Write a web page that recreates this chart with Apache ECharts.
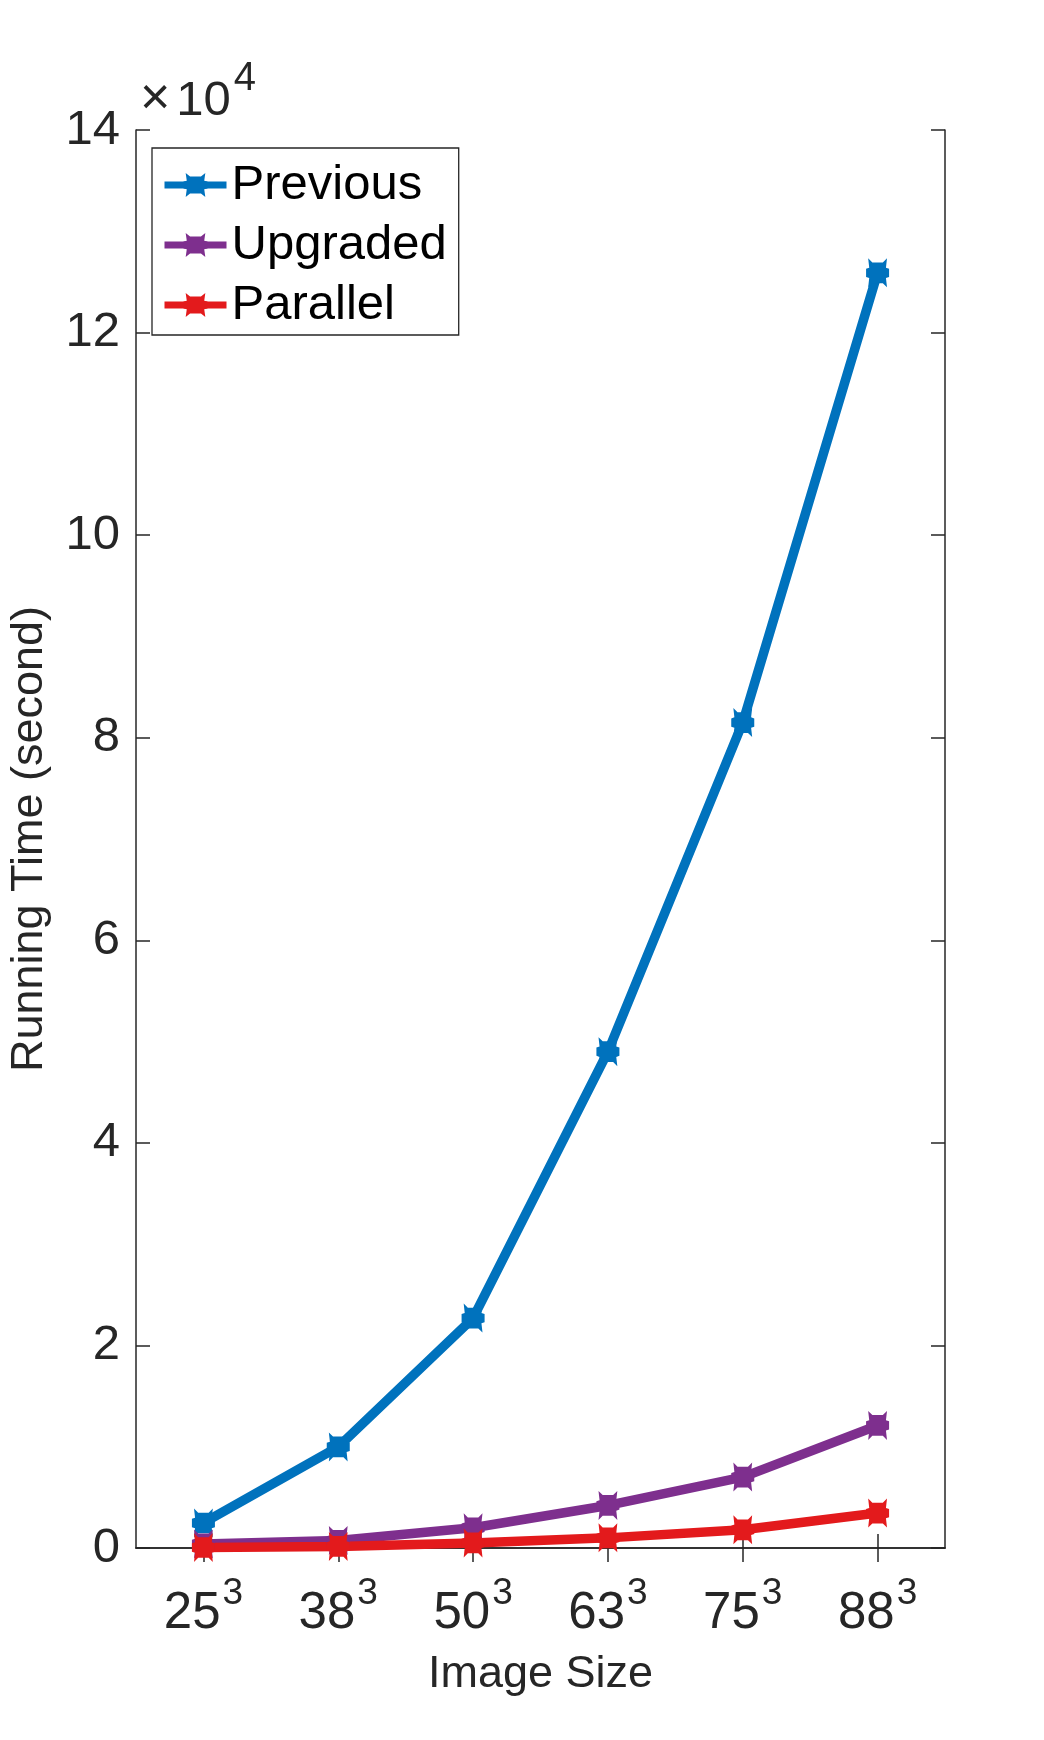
<!DOCTYPE html>
<html>
<head>
<meta charset="utf-8">
<script src="https://cdn.jsdelivr.net/npm/echarts@6/dist/echarts.min.js"></script>
<style>
html,body{margin:0;padding:0;background:#fff;}
#chart{width:1044px;height:1740px;}
</style>
</head>
<body>
<div id="chart"></div>
<script>
// ---- data ----
const categories = ['25', '38', '50', '63', '75', '88'];
const exponent = '3';
const seriesNames = ['Previous', 'Upgraded', 'Parallel'];
const previous = [2470, 9980, 22700, 49000, 81500, 125900];
const upgraded = [400, 750, 2000, 4200, 7000, 12100];
const parallel = [50, 160, 500, 1000, 1800, 3450];
const yTicks = [0, 2, 4, 6, 8, 10, 12, 14]; // in units of 10^4
const yScale = 10000;

const colors = ['#0072BD', '#7E2F8E', '#E31A1C'];
const axisColor = '#262626';
const FONT = '"Liberation Sans", Arial, Helvetica, sans-serif';
const marker = 'path://M-9 -14 L-5 -10 L5 -10 L9 -14 L8 -5 L11 -4 L11 4 L8 5 L9 14 L5 10 L-5 10 L-9 14 L-8 5 L-11 4 L-11 -4 L-8 -5 Z';

const chart = echarts.init(document.getElementById('chart'), null, {renderer: 'canvas'});

function mkSeries(name, data, color) {
  return {
    name: name,
    type: 'line',
    data: data,
    xAxisIndex: 0,
    yAxisIndex: 0,
    clip: false,
    symbol: marker,
    symbolSize: [23, 29],
    showAllSymbol: true,
    lineStyle: {color: color, width: 9.5},
    itemStyle: {color: color},
    emphasis: {disabled: true},
    animation: false
  };
}

const axisLineStyle = {show: true, lineStyle: {color: axisColor, width: 1.5}};

const option = {
  animation: false,
  textStyle: {fontFamily: FONT},
  title: {
    left: 140,
    top: 59,
    padding: 0,
    text: '{x|×}{b|10}{s|4}',
    textStyle: {
      fontWeight: 'normal',
      rich: {
        x: {fontFamily: FONT, fontWeight: 'normal', fontSize: 52, lineHeight: 67, color: axisColor, verticalAlign: 'bottom', padding: [0, 6, 0, 0]},
        b: {fontFamily: FONT, fontWeight: 'normal', fontSize: 49, lineHeight: 67, color: axisColor, verticalAlign: 'bottom'},
        s: {fontFamily: FONT, fontWeight: 'normal', fontSize: 40, lineHeight: 40, color: axisColor, verticalAlign: 'top', padding: [0, 0, 0, 3]}
      }
    }
  },
  legend: {
    orient: 'vertical',
    left: 152,
    top: 148,
    itemWidth: 62,
    itemHeight: 30,
    itemGap: 10,
    padding: [12, 12, 5, 9],
    borderColor: axisColor,
    borderWidth: 1.3,
    backgroundColor: '#fff',
    selectedMode: false,
    lineStyle: {width: 7},
    textStyle: {fontFamily: FONT, fontSize: 49, color: '#000', lineHeight: 50},
    data: seriesNames
  },
  grid: {left: 136, top: 130, right: 99, bottom: 192, containLabel: false, outerBoundsMode: 'none'},
  xAxis: [
    {
      type: 'category',
      data: categories,
      boundaryGap: true,
      position: 'bottom',
      name: 'Image Size',
      nameLocation: 'middle',
      nameGap: 102,
      nameTextStyle: {fontFamily: FONT, fontSize: 45, color: axisColor, lineHeight: 50, verticalAlign: 'top'},
      axisLine: axisLineStyle,
      axisTick: {show: true, inside: true, length: 14, alignWithLabel: true, lineStyle: {color: axisColor, width: 1.5}},
      axisLabel: {
        show: true,
        margin: 27,
        interval: 0,
        formatter: function (v) { return '{b|' + v + '}{s|' + exponent + '}'; },
        rich: {
          b: {fontFamily: FONT, fontSize: 51, lineHeight: 64, color: axisColor, verticalAlign: 'bottom'},
          s: {fontFamily: FONT, fontSize: 37, lineHeight: 37, color: axisColor, verticalAlign: 'top', padding: [0, 0, 0, 2]}
        }
      },
      splitLine: {show: false}
    },
    {
      type: 'category',
      data: categories,
      boundaryGap: true,
      position: 'top',
      axisLine: axisLineStyle,
      axisTick: {show: true, inside: true, length: 14, alignWithLabel: true, lineStyle: {color: axisColor, width: 1.5}},
      axisLabel: {show: false},
      splitLine: {show: false}
    }
  ],
  yAxis: [
    {
      type: 'value',
      min: yTicks[0] * yScale,
      max: yTicks[yTicks.length - 1] * yScale,
      interval: (yTicks[1] - yTicks[0]) * yScale,
      position: 'left',
      name: 'Running Time (second)',
      nameLocation: 'middle',
      nameRotate: 90,
      nameGap: 67,
      nameTextStyle: {fontFamily: FONT, fontSize: 45, color: axisColor, lineHeight: 50},
      axisLine: axisLineStyle,
      axisTick: {show: true, inside: true, length: 14, lineStyle: {color: axisColor, width: 1.5}},
      axisLabel: {
        show: true,
        margin: 16,
        fontFamily: FONT,
        fontSize: 49,
        color: axisColor,
        formatter: function (v) { return String(v / yScale); }
      },
      splitLine: {show: false}
    },
    {
      type: 'value',
      min: yTicks[0] * yScale,
      max: yTicks[yTicks.length - 1] * yScale,
      interval: (yTicks[1] - yTicks[0]) * yScale,
      position: 'right',
      axisLine: axisLineStyle,
      axisTick: {show: true, inside: true, length: 14, lineStyle: {color: axisColor, width: 1.5}},
      axisLabel: {show: false},
      splitLine: {show: false}
    }
  ],
  series: [
    mkSeries(seriesNames[0], previous, colors[0]),
    mkSeries(seriesNames[1], upgraded, colors[1]),
    mkSeries(seriesNames[2], parallel, colors[2])
  ]
};

chart.setOption(option);
</script>
</body>
</html>
